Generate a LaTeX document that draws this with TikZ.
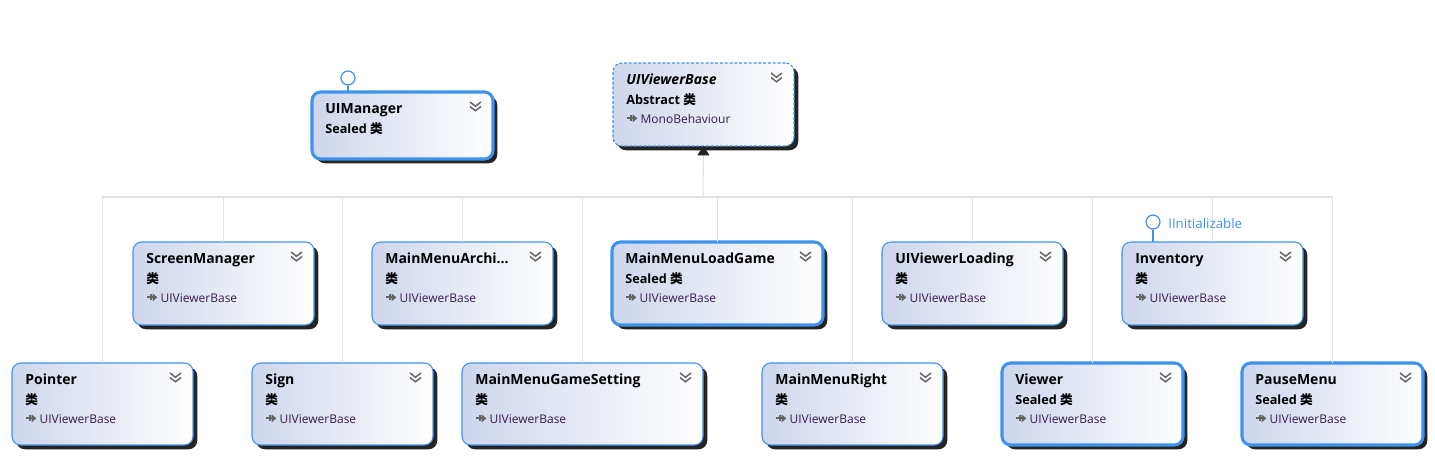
\documentclass[tikz,border=0pt]{standalone}
\usepackage{fontspec}
\setmainfont{Open Sans}
\newfontfamily\cjk{Noto Sans CJK SC}
\usetikzlibrary{shadows,arrows.meta}
\definecolor{boxblue}{RGB}{62,148,236}
\definecolor{shadeleft}{RGB}{206,214,236}
\definecolor{shadowc}{RGB}{36,36,36}
\definecolor{basetext}{RGB}{58,26,80}
\definecolor{ifblue}{RGB}{62,145,230}
\definecolor{conncol}{RGB}{226,226,226}
\definecolor{chevcol}{RGB}{100,100,100}
\definecolor{tipcol}{RGB}{34,34,34}
\tikzset{
  cls/.style={rectangle, rounded corners=6.5pt, draw=boxblue, line width=0.8pt,
    left color=shadeleft, right color=white, inner sep=0pt, outer sep=0pt, anchor=north west,
    drop shadow={shadow xshift=3.2pt, shadow yshift=-3.2pt, fill=shadowc, opacity=1}},
  sealedbox/.style={line width=2.3pt},
  abstractbox/.style={dash pattern=on 2.2pt off 1.4pt},
  ttl/.style={anchor=base west, inner sep=0pt, font=\fontsize{10.5pt}{12pt}\selectfont\bfseries},
  kindtxt/.style={anchor=base west, inner sep=0pt, font=\fontsize{9.5pt}{11pt}\selectfont\bfseries},
  basename/.style={anchor=base west, inner sep=0pt, text=basetext, font=\fontsize{9pt}{11pt}\selectfont},
  chev/.style={draw=chevcol, line width=1.1pt},
  conn/.style={draw=conncol, line width=0.8pt},
  lolli/.style={circle, draw=ifblue, fill=white, line width=0.9pt, minimum size=10.5pt, inner sep=0pt},
  lollistem/.style={draw=ifblue, line width=0.9pt},
  iflabel/.style={anchor=base west, inner sep=0pt, text=ifblue, font=\fontsize{10pt}{12pt}\selectfont},
}
% #1 name, #2 left, #3 top, #4 width, #5 height, #6 extra style, #7 title, #8 kind
\newcommand\clsbox[8]{%
  \node[cls,#6,minimum width={#4*0.75pt},minimum height={#5*0.75pt}] (#1) at (#2,#3) {};
  \node[ttl] (#1-title) at ([xshift=9.8pt,yshift=-15.75pt]#1.north west) {#7};
  \node[kindtxt] (#1-kind) at ([xshift=9.8pt,yshift=-30.75pt]#1.north west) {#8};
  \draw[chev] ([xshift=-17.25pt,yshift=-7.5pt]#1.north east) -- ++(4.1pt,-3.2pt) -- ++(4.1pt,3.2pt);
  \draw[chev] ([xshift=-17.25pt,yshift=-10.9pt]#1.north east) -- ++(4.1pt,-3.2pt) -- ++(4.1pt,3.2pt);
}
\newcommand\inh[2]{%
  \coordinate (#1-arr) at ([xshift=10.5pt,yshift=-41.5pt]#1.north west);
  \draw[chevcol, line width=1.6pt] (#1-arr) -- ++(4.6pt,0pt);
  \draw[chevcol, line width=0.9pt] ([xshift=3pt,yshift=2.2pt]#1-arr) -- ++(0pt,-4.4pt);
  \fill[chevcol] ([xshift=4.2pt,yshift=3pt]#1-arr) -- ++(3.6pt,-3pt) -- ++(-3.6pt,-3pt) -- cycle;
  \node[basename] (#1-base) at ([xshift=20.5pt,yshift=-45pt]#1.north west) {#2};
}
\begin{document}
\begin{tikzpicture}[x=0.75pt,y=-0.75pt]
\useasboundingbox (0,0) rectangle (1435,458);
% top row
\clsbox{UIManager}{312}{92}{181}{67}{sealedbox}{UIManager}{Sealed {\cjk 类}}
\clsbox{UIViewerBase}{613}{63}{181}{83}{abstractbox}{\itshape UIViewerBase}{Abstract {\cjk 类}}
\inh{UIViewerBase}{MonoBehaviour}
% second row
\clsbox{ScreenManager}{133}{242}{181}{83}{}{ScreenManager}{\cjk 类}
\inh{ScreenManager}{UIViewerBase}
\clsbox{MainMenuArchi}{372}{242}{181}{83}{}{MainMenuArchi…}{\cjk 类}
\inh{MainMenuArchi}{UIViewerBase}
\clsbox{MainMenuLoadGame}{612}{242}{211}{83}{sealedbox}{MainMenuLoadGame}{Sealed {\cjk 类}}
\inh{MainMenuLoadGame}{UIViewerBase}
\clsbox{UIViewerLoading}{882}{242}{181}{83}{}{UIViewerLoading}{\cjk 类}
\inh{UIViewerLoading}{UIViewerBase}
\clsbox{Inventory}{1122}{242}{181}{83}{}{Inventory}{\cjk 类}
\inh{Inventory}{UIViewerBase}
% third row
\clsbox{Pointer}{12}{363}{181}{82}{}{Pointer}{\cjk 类}
\inh{Pointer}{UIViewerBase}
\clsbox{Sign}{252}{363}{181}{82}{}{Sign}{\cjk 类}
\inh{Sign}{UIViewerBase}
\clsbox{MainMenuGameSetting}{462}{363}{241}{82}{}{MainMenuGameSetting}{\cjk 类}
\inh{MainMenuGameSetting}{UIViewerBase}
\clsbox{MainMenuRight}{762}{363}{181}{82}{}{MainMenuRight}{\cjk 类}
\inh{MainMenuRight}{UIViewerBase}
\clsbox{Viewer}{1002}{363}{181}{82}{sealedbox}{Viewer}{Sealed {\cjk 类}}
\inh{Viewer}{UIViewerBase}
\clsbox{PauseMenu}{1242}{363}{181}{82}{sealedbox}{PauseMenu}{Sealed {\cjk 类}}
\inh{PauseMenu}{UIViewerBase}
% inheritance connectors
\coordinate (hub) at (703,197);
\foreach \c in {Pointer,ScreenManager,Sign,MainMenuArchi,MainMenuGameSetting,MainMenuLoadGame,MainMenuRight,UIViewerLoading,Viewer,Inventory,PauseMenu}
  \draw[conn] (\c.north) |- (hub);
\draw[conn, -{Triangle[width=9pt,length=7pt,color=tipcol,fill=tipcol]}] (hub) -- (UIViewerBase.south);
% interfaces
\node[lolli] (UIManager-if) at (348,78) {};
\draw[lollistem] (UIManager-if) -- (UIManager-if |- UIManager.north);
\node[lolli] (Inventory-if) at (1153,222) {};
\draw[lollistem] (Inventory-if) -- (Inventory-if |- Inventory.north);
\node[iflabel] (Inventory-iflabel) at (1168,228) {IInitializable};
\end{tikzpicture}
\end{document}
